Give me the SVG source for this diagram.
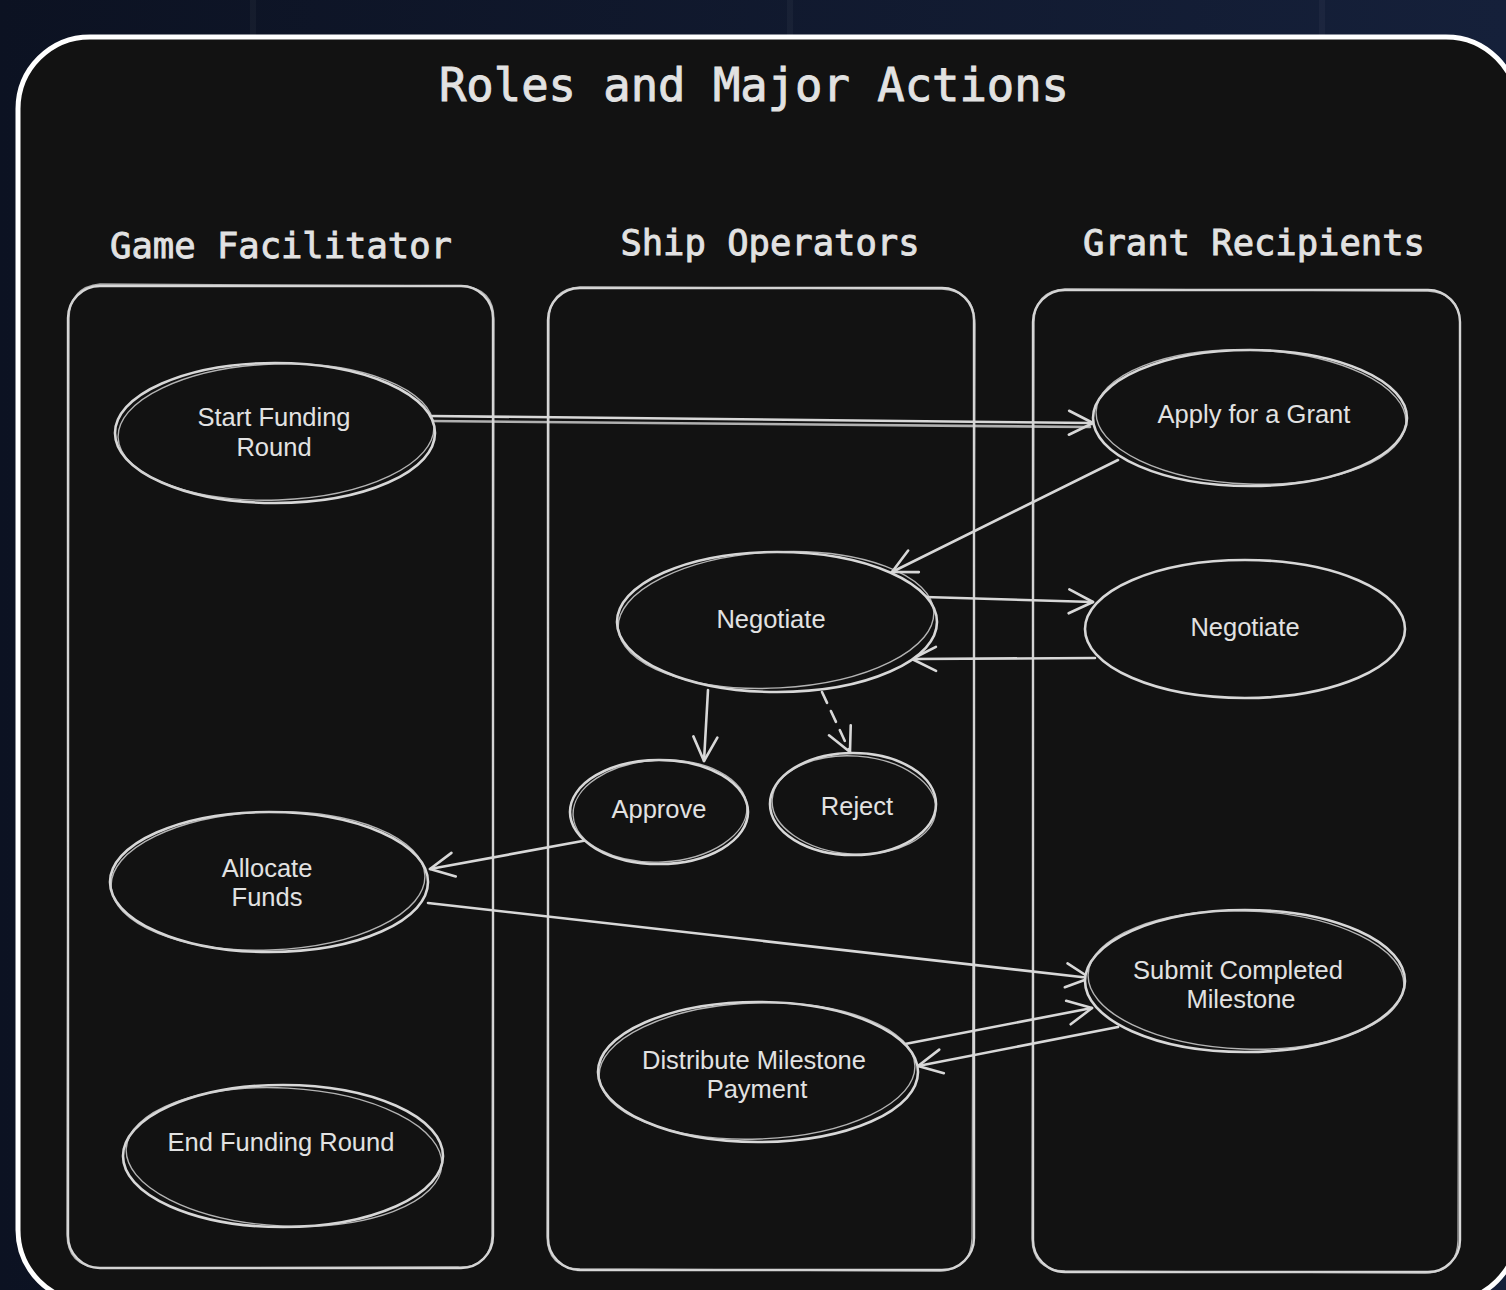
<svg xmlns="http://www.w3.org/2000/svg" width="1506" height="1290" viewBox="0 0 1506 1290">
  <defs>
    <linearGradient id="bg" x1="0" y1="0" x2="1" y2="0">
      <stop offset="0" stop-color="#0c1222"/>
      <stop offset="1" stop-color="#15203a"/>
    </linearGradient>
    <marker id="arr" viewBox="-26 -14 30 28" markerWidth="30" markerHeight="28" refX="0" refY="0" orient="auto" markerUnits="userSpaceOnUse">
      <path d="M-24,-12 L0,0 L-24,12" fill="none" stroke="#d8d8d8" stroke-width="2.6" stroke-linecap="round" stroke-linejoin="round"/>
    </marker>
  </defs>
  <style>
    .title { font-family: "DejaVu Sans Mono", "Liberation Mono", monospace; font-weight: normal; fill: #e2e2e2; stroke: #e2e2e2; stroke-width: 0.9; }
    .lane { fill: none; stroke: #d8d8d8; stroke-width: 2.4; }
    .lane2 { fill: none; stroke: #cfcfcf; stroke-width: 1.3; opacity: 0.8; }
    .node { fill: #121212; stroke: #d8d8d8; stroke-width: 2.6; }
    .node2 { fill: none; stroke: #d0d0d0; stroke-width: 1.4; opacity: 0.85; }
    .lbl { font-family: "Liberation Sans", Arial, sans-serif; font-size: 25.5px; fill: #e2e2e2; text-anchor: middle; }
    .edge { fill: none; stroke: #d8d8d8; stroke-width: 2.6; stroke-linecap: round; }
    .dash { stroke-dasharray: 12 9; }
  </style>

  <rect x="0" y="0" width="1506" height="1290" fill="url(#bg)"/>
  <g stroke="#ffffff" stroke-opacity="0.035" stroke-width="6">
    <line x1="253" y1="0" x2="253" y2="1290"/>
    <line x1="790" y1="0" x2="790" y2="1290"/>
    <line x1="1322" y1="0" x2="1322" y2="1290"/>
  </g>

  <g id="frame">
    <rect x="18" y="37" width="1500" height="1265" rx="72" fill="#121212" stroke="#ffffff" stroke-width="5"/>
    <text class="title" x="754" y="101" font-size="45.5" text-anchor="middle">Roles and Major Actions</text>
  </g>

  <g id="lane-game-facilitator">
    <text class="title" x="281" y="258" font-size="35.5" text-anchor="middle">Game Facilitator</text>
    <rect class="lane" x="68" y="286" width="425" height="982" rx="32"/>
    <path class="lane2" d="M100,284 L462,286 Q494,288 494,320 L492,1236 Q490,1268 458,1267 L100,1268 Q67,1266 67,1234 L69,318 Q70,287 100,284 Z"/>
  </g>
  <g id="lane-ship-operators">
    <text class="title" x="770" y="255" font-size="35.5" text-anchor="middle">Ship Operators</text>
    <rect class="lane" x="548" y="288" width="426" height="982" rx="32"/>
    <path class="lane2" d="M580,287 L942,289 Q975,291 975,324 L972,1238 Q971,1270 940,1271 L580,1269 Q547,1268 547,1236 L549,320 Q550,289 580,287 Z"/>
  </g>
  <g id="lane-grant-recipients">
    <text class="title" x="1254" y="255" font-size="35.5" text-anchor="middle">Grant Recipients</text>
    <rect class="lane" x="1033" y="290" width="427" height="982" rx="32"/>
    <path class="lane2" d="M1065,289 L1428,291 Q1461,293 1460,326 L1458,1240 Q1457,1273 1425,1273 L1065,1271 Q1032,1270 1032,1238 L1034,322 Q1035,291 1065,289 Z"/>
  </g>

  <g id="connectors">
    <line class="edge" x1="430" y1="416" x2="1093" y2="423" marker-end="url(#arr)"/>
    <line class="edge" x1="430" y1="421" x2="1090" y2="427" stroke-width="1.4" opacity="0.8"/>
    <line class="edge" x1="1118" y1="460" x2="892" y2="572" marker-end="url(#arr)"/>
    <line class="edge" x1="925" y1="597" x2="1093" y2="602" marker-end="url(#arr)"/>
    <line class="edge" x1="1095" y1="658" x2="912" y2="659" marker-end="url(#arr)"/>
    <line class="edge" x1="708" y1="690" x2="704" y2="761" marker-end="url(#arr)"/>
    <line class="edge dash" x1="822" y1="692" x2="850" y2="752" marker-end="url(#arr)"/>
    <line class="edge" x1="588" y1="840" x2="430" y2="869" marker-end="url(#arr)"/>
    <line class="edge" x1="428" y1="903" x2="1090" y2="978" marker-end="url(#arr)"/>
    <line class="edge" x1="905" y1="1044" x2="1092" y2="1008" marker-end="url(#arr)"/>
    <line class="edge" x1="1118" y1="1027" x2="918" y2="1066" marker-end="url(#arr)"/>
  </g>

  <g id="node-start-funding-round">
    <ellipse class="node" cx="275" cy="433" rx="160" ry="70"/>
    <ellipse class="node2" cx="276" cy="432" rx="158" ry="68" transform="rotate(-2 276 432)"/>
    <text class="lbl" x="274" y="426">Start Funding</text>
    <text class="lbl" x="274" y="456">Round</text>
  </g>
  <g id="node-apply-for-a-grant">
    <ellipse class="node" cx="1250" cy="418" rx="157" ry="68"/>
    <ellipse class="node2" cx="1251" cy="417" rx="155" ry="67" transform="rotate(2 1251 417)"/>
    <text class="lbl" x="1254" y="423">Apply for a Grant</text>
  </g>
  <g id="node-negotiate-ship">
    <ellipse class="node" cx="777" cy="622" rx="160" ry="70"/>
    <ellipse class="node2" cx="776" cy="620" rx="158" ry="68" transform="rotate(-3 776 620)"/>
    <text class="lbl" x="771" y="628">Negotiate</text>
  </g>
  <g id="node-negotiate-grant">
    <ellipse class="node" cx="1245" cy="629" rx="160" ry="69"/>
    <text class="lbl" x="1245" y="636">Negotiate</text>
  </g>
  <g id="node-approve">
    <ellipse class="node" cx="659" cy="812" rx="89" ry="52"/>
    <ellipse class="node2" cx="660" cy="811" rx="87" ry="51" transform="rotate(-3 660 811)"/>
    <text class="lbl" x="659" y="818">Approve</text>
  </g>
  <g id="node-reject">
    <ellipse class="node" cx="853" cy="804" rx="83" ry="51"/>
    <ellipse class="node2" cx="854" cy="805" rx="82" ry="49" transform="rotate(4 854 805)"/>
    <text class="lbl" x="857" y="815">Reject</text>
  </g>
  <g id="node-allocate-funds">
    <ellipse class="node" cx="269" cy="882" rx="159" ry="70"/>
    <ellipse class="node2" cx="268" cy="881" rx="157" ry="69" transform="rotate(-2 268 881)"/>
    <text class="lbl" x="267" y="877">Allocate</text>
    <text class="lbl" x="267" y="906">Funds</text>
  </g>
  <g id="node-submit-completed-milestone">
    <ellipse class="node" cx="1245" cy="981" rx="160" ry="71"/>
    <ellipse class="node2" cx="1246" cy="980" rx="158" ry="69" transform="rotate(2 1246 980)"/>
    <text class="lbl" x="1238" y="979">Submit Completed</text>
    <text class="lbl" x="1241" y="1008">Milestone</text>
  </g>
  <g id="node-distribute-milestone-payment">
    <ellipse class="node" cx="758" cy="1072" rx="160" ry="70"/>
    <ellipse class="node2" cx="757" cy="1071" rx="158" ry="68" transform="rotate(-2 757 1071)"/>
    <text class="lbl" x="754" y="1069">Distribute Milestone</text>
    <text class="lbl" x="757" y="1098">Payment</text>
  </g>
  <g id="node-end-funding-round">
    <ellipse class="node" cx="283" cy="1156" rx="160" ry="71"/>
    <ellipse class="node2" cx="284" cy="1157" rx="158" ry="69" transform="rotate(3 284 1157)"/>
    <text class="lbl" x="281" y="1151">End Funding Round</text>
  </g>
</svg>
